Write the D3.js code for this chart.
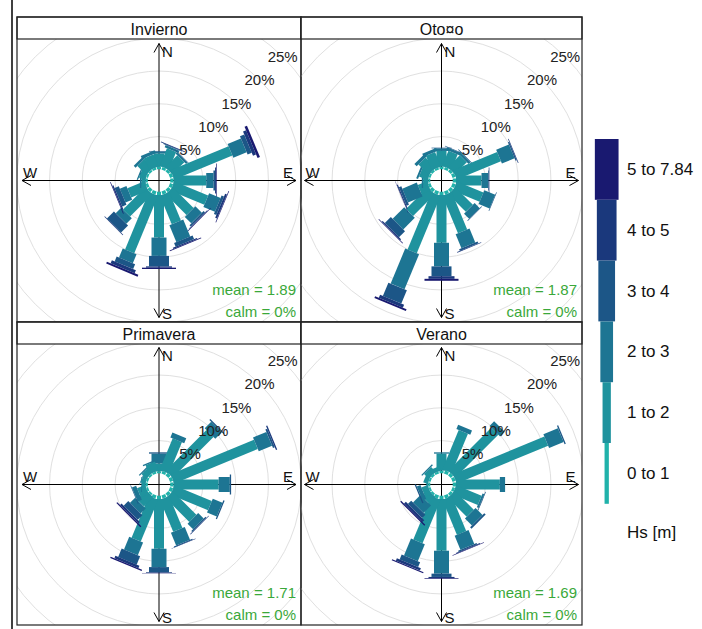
<!DOCTYPE html>
<html>
<head>
<meta charset="utf-8">
<script src="https://cdn.jsdelivr.net/npm/d3@7"></script>
<style>
  body { margin: 0; background: #fff; }
  text { font-family: "Liberation Sans", Arial, sans-serif; }
</style>
</head>
<body>
<script>
// ---- data ----
const seasons = ["Invierno", "Oto¤o", "Primavera", "Verano"];
const directions = ["N", "NNE", "NE", "ENE", "E", "ESE", "SE", "SSE",
                    "S", "SSW", "SW", "WSW", "W", "WNW", "NW", "NNW"];
const hsBins = ["0 to 1", "1 to 2", "2 to 3", "3 to 4", "4 to 5", "5 to 7.84"];
const meanHs = [1.89, 1.87, 1.71, 1.69];
const calmPct = [0, 0, 0, 0];
const gridPct = [5, 10, 15, 20, 25, 30];
const labelPct = [5, 10, 15, 20, 25];

// % of time per direction, one value per Hs bin
const invierno = [
  [0.4, 2.0, 0.3, 0.1, 0, 0],
  [0.4, 2.9, 0.4, 0.1, 0.1, 0],
  [0.4, 2.6, 0.3, 0.1, 0, 0],
  [0.5, 9.6, 2.2, 0.7, 0.5, 0.4],
  [0.5, 5.0, 1.1, 0.25, 0.15, 0.1],
  [0.5, 5.6, 1.9, 0.4, 0.3, 0.1],
  [0.5, 4.5, 1.4, 0.3, 0.1, 0.1],
  [0.5, 4.7, 2.8, 0.6, 0.2, 0.1],
  [0.5, 6.5, 2.8, 1.6, 0.2, 0.2],
  [0.5, 9.5, 1.5, 0.8, 0.5, 0.3],
  [0.5, 4.8, 1.2, 1.5, 0.1, 0],
  [0.4, 2.8, 1.1, 0.7, 0.2, 0.1],
  [0.3, 0.7, 0.2, 0, 0, 0],
  [0.3, 1.0, 0.2, 0, 0, 0],
  [0.3, 1.9, 0.4, 0, 0, 0],
  [0.3, 2.0, 0.5, 0, 0, 0]
];
const otono = [
  [0.4, 2.4, 0.4, 0.1, 0, 0],
  [0.4, 2.5, 0.4, 0.1, 0, 0],
  [0.4, 2.6, 0.4, 0.1, 0, 0],
  [0.5, 7.3, 2.1, 0.2, 0.1, 0],
  [0.5, 3.9, 1.0, 0.1, 0.1, 0],
  [0.5, 4.4, 1.8, 0.1, 0, 0],
  [0.5, 3.8, 1.1, 0.1, 0, 0],
  [0.5, 6.2, 2.3, 0.3, 0.1, 0],
  [0.5, 7.3, 3.6, 1.5, 0.4, 0.3],
  [0.5, 9.5, 5.8, 2.2, 0.5, 0.3],
  [0.5, 4.7, 2.5, 1.3, 0.2, 0.1],
  [0.4, 1.5, 2.4, 0.4, 0.15, 0.05],
  [0.3, 0.8, 0.2, 0, 0, 0],
  [0.3, 1.4, 0.3, 0, 0, 0],
  [0.3, 2.2, 0.5, 0, 0, 0],
  [0.3, 2.4, 0.5, 0, 0, 0]
];
const primavera = [
  [0.3, 1.2, 1.5, 0.2, 0, 0],
  [0.4, 5.2, 0.8, 0, 0, 0],
  [0.5, 8.8, 1.4, 0.2, 0, 0],
  [0.5, 13.8, 2.2, 0.3, 0.2, 0],
  [0.5, 6.9, 1.7, 0.2, 0, 0],
  [0.5, 6.2, 1.6, 0.2, 0, 0],
  [0.5, 5.1, 1.2, 0.2, 0.1, 0],
  [0.5, 5.3, 2.1, 0.15, 0.05, 0],
  [0.5, 7.6, 2.8, 0.8, 0.1, 0.05],
  [0.5, 6.9, 2.1, 1.4, 0.4, 0.2],
  [0.3, 2.0, 1.1, 1.0, 0.3, 0.2],
  [0.3, 1.3, 0.7, 0.1, 0, 0],
  [0.3, 0.6, 0.1, 0, 0, 0],
  [0.3, 0.7, 0.1, 0, 0, 0],
  [0.3, 1.0, 0.2, 0, 0, 0],
  [0.3, 1.5, 0.2, 0, 0, 0]
];
const verano = [
  [0.4, 2.6, 0.2, 0, 0, 0],
  [0.5, 6.5, 0.7, 0, 0, 0],
  [0.5, 9.3, 1.0, 0, 0, 0],
  [0.5, 15.1, 2.4, 0.2, 0, 0],
  [0.5, 6.7, 0.8, 0, 0, 0],
  [0.4, 4.2, 0.3, 0.1, 0, 0],
  [0.4, 4.1, 1.5, 0.3, 0, 0],
  [0.5, 5.8, 2.3, 0.2, 0.1, 0.1],
  [0.5, 7.9, 3.5, 0.5, 0.2, 0.1],
  [0.5, 7.2, 2.8, 0.8, 0.4, 0.2],
  [0.3, 1.4, 1.6, 0.7, 0.4, 0.2],
  [0.3, 1.0, 0.6, 0.2, 0, 0],
  [0.3, 0.3, 0, 0, 0, 0],
  [0.3, 0.7, 0, 0, 0, 0],
  [0.3, 1.0, 0.2, 0, 0, 0],
  [0.3, 0.7, 0, 0, 0, 0]
];
const seasonData = [invierno, otono, primavera, verano];

// ---- layout ----
const width = 702, height = 629;
const colX = [17, 301, 582];
const rowY = [17, 322, 625];
const stripH = 22;
const axisLen = 137;
const paddleW = [4, 10, 15, 20, 26, 34];   // full width per Hs bin, px
const legendW = [4.3, 8.3, 12.7, 16.7, 19.7, 23.7];

const r = d3.scaleLinear().domain([0, 30]).range([11.2, 11.2 + 30 * 6.55]);
const color = d3.scaleOrdinal()
    .domain(hsBins)
    .range(hsBins.map((d, i) => d3.interpolateRgb("#20b2aa", "#191970")(i / (hsBins.length - 1))));
const angle = d3.scaleLinear().domain([0, directions.length]).range([0, 360]);

const svg = d3.select("body").append("svg")
    .attr("width", width)
    .attr("height", height);

svg.append("line")
    .attr("x1", 12).attr("x2", 12).attr("y1", 0).attr("y2", height)
    .attr("stroke", "#000").attr("stroke-width", 1.5);

seasons.forEach(function (name, k) {
    var col = k % 2, row = Math.floor(k / 2);
    var x0 = colX[col], x1 = colX[col + 1];
    var y0 = rowY[row], y1 = rowY[row + 1];
    var by0 = y0 + stripH;
    var cx = (x0 + x1) / 2, cy = (by0 + y1) / 2;

    svg.append("clipPath").attr("id", "clip" + k)
        .append("rect")
        .attr("x", x0).attr("y", by0)
        .attr("width", x1 - x0).attr("height", y1 - by0);

    var body = svg.append("g").attr("clip-path", "url(#clip" + k + ")");
    var g = body.append("g").attr("transform", "translate(" + cx + "," + cy + ")");

    // grid circles
    g.selectAll("circle.grid")
        .data(gridPct)
        .enter().append("circle")
        .attr("class", "grid")
        .attr("r", d => r(d))
        .attr("fill", "none")
        .attr("stroke", "#e0e0e0")
        .attr("stroke-width", 1);

    // axes
    g.append("line").attr("x1", -axisLen).attr("x2", axisLen)
        .attr("stroke", "#000").attr("stroke-width", 1);
    g.append("line").attr("y1", -axisLen).attr("y2", axisLen)
        .attr("stroke", "#000").attr("stroke-width", 1);
    [[0, -1], [0, 1], [-1, 0], [1, 0]].forEach(function (d) {
        var tx = d[0] * axisLen, ty = d[1] * axisLen;
        var px = -d[1], py = d[0];
        var path = d3.path();
        path.moveTo(tx - d[0] * 9 + px * 5, ty - d[1] * 9 + py * 5);
        path.lineTo(tx, ty);
        path.lineTo(tx - d[0] * 9 - px * 5, ty - d[1] * 9 - py * 5);
        g.append("path").attr("d", path.toString())
            .attr("fill", "none").attr("stroke", "#000").attr("stroke-width", 1);
    });

    // paddles
    var dirs = g.selectAll("g.dir")
        .data(seasonData[k])
        .enter().append("g")
        .attr("class", "dir")
        .attr("transform", (d, i) => "rotate(" + angle(i) + ")");

    dirs.selectAll("rect")
        .data(function (d) {
            var cum = d3.cumsum(d);
            return d.map((v, j) => ({ bin: hsBins[j], j: j, lo: j ? cum[j - 1] : 0, hi: cum[j] }));
        })
        .enter().filter(d => d.hi > d.lo)
        .append("rect")
        .attr("x", d => -paddleW[d.j] / 2)
        .attr("width", d => paddleW[d.j])
        .attr("y", d => -r(d.hi))
        .attr("height", d => r(d.hi) - r(d.lo))
        .attr("fill", d => color(d.bin));

    // percentage labels
    g.selectAll("text.pct")
        .data(labelPct)
        .enter().append("text")
        .attr("class", "pct")
        .attr("x", d => r(d) * Math.SQRT1_2)
        .attr("y", d => -r(d) * Math.SQRT1_2)
        .attr("text-anchor", "middle")
        .attr("dominant-baseline", "central")
        .attr("font-size", 15)
        .attr("fill", "#222")
        .text(d => d + "%");

    // compass letters
    var letters = [
        { t: "N", x: 3, y: -axisLen + 8, a: "start" },
        { t: "S", x: 3, y: axisLen - 4, a: "start" },
        { t: "W", x: -axisLen + 8, y: -8, a: "middle" },
        { t: "E", x: axisLen - 8, y: -8, a: "middle" }
    ];
    g.selectAll("text.dir")
        .data(letters)
        .enter().append("text")
        .attr("class", "dir")
        .attr("x", d => d.x).attr("y", d => d.y)
        .attr("text-anchor", d => d.a)
        .attr("dominant-baseline", "central")
        .attr("font-size", 15)
        .attr("fill", "#111")
        .text(d => d.t);

    // mean / calm
    body.append("text")
        .attr("x", x1 - 5).attr("y", y1 - 33)
        .attr("text-anchor", "end")
        .attr("dominant-baseline", "central")
        .attr("font-size", 15)
        .attr("fill", "#3aa83a")
        .text("mean = " + meanHs[k]);
    body.append("text")
        .attr("x", x1 - 5).attr("y", y1 - 11)
        .attr("text-anchor", "end")
        .attr("dominant-baseline", "central")
        .attr("font-size", 15)
        .attr("fill", "#3aa83a")
        .text("calm = " + calmPct[k] + "%");

    // strip and frame
    svg.append("rect")
        .attr("x", x0).attr("y", y0)
        .attr("width", x1 - x0).attr("height", stripH)
        .attr("fill", "#fff").attr("stroke", "#222").attr("stroke-width", 1.2);
    svg.append("text")
        .attr("x", cx).attr("y", y0 + stripH / 2 + 1)
        .attr("text-anchor", "middle")
        .attr("dominant-baseline", "central")
        .attr("font-size", 16)
        .attr("fill", "#111")
        .text(name);
    svg.append("rect")
        .attr("x", x0).attr("y", y0)
        .attr("width", x1 - x0).attr("height", y1 - y0)
        .attr("fill", "none").attr("stroke", "#222").attr("stroke-width", 1.2);
});

// ---- legend ----
const legendX = 606.7, legendTop = 139, legendH = 60.8;
const legendOrder = hsBins.slice().reverse();
const legend = svg.append("g");
legend.selectAll("rect")
    .data(legendOrder)
    .enter().append("rect")
    .attr("x", d => legendX - legendW[hsBins.indexOf(d)] / 2)
    .attr("width", d => legendW[hsBins.indexOf(d)])
    .attr("y", (d, i) => legendTop + i * legendH)
    .attr("height", legendH)
    .attr("fill", d => color(d));
legend.selectAll("text")
    .data(legendOrder)
    .enter().append("text")
    .attr("x", 627)
    .attr("y", (d, i) => legendTop + (i + 0.5) * legendH)
    .attr("dominant-baseline", "central")
    .attr("font-size", 17)
    .attr("fill", "#111")
    .text(d => d);
legend.append("text")
    .attr("x", 627).attr("y", 532)
    .attr("dominant-baseline", "central")
    .attr("font-size", 17)
    .attr("fill", "#111")
    .text("Hs [m]");
</script>
</body>
</html>
